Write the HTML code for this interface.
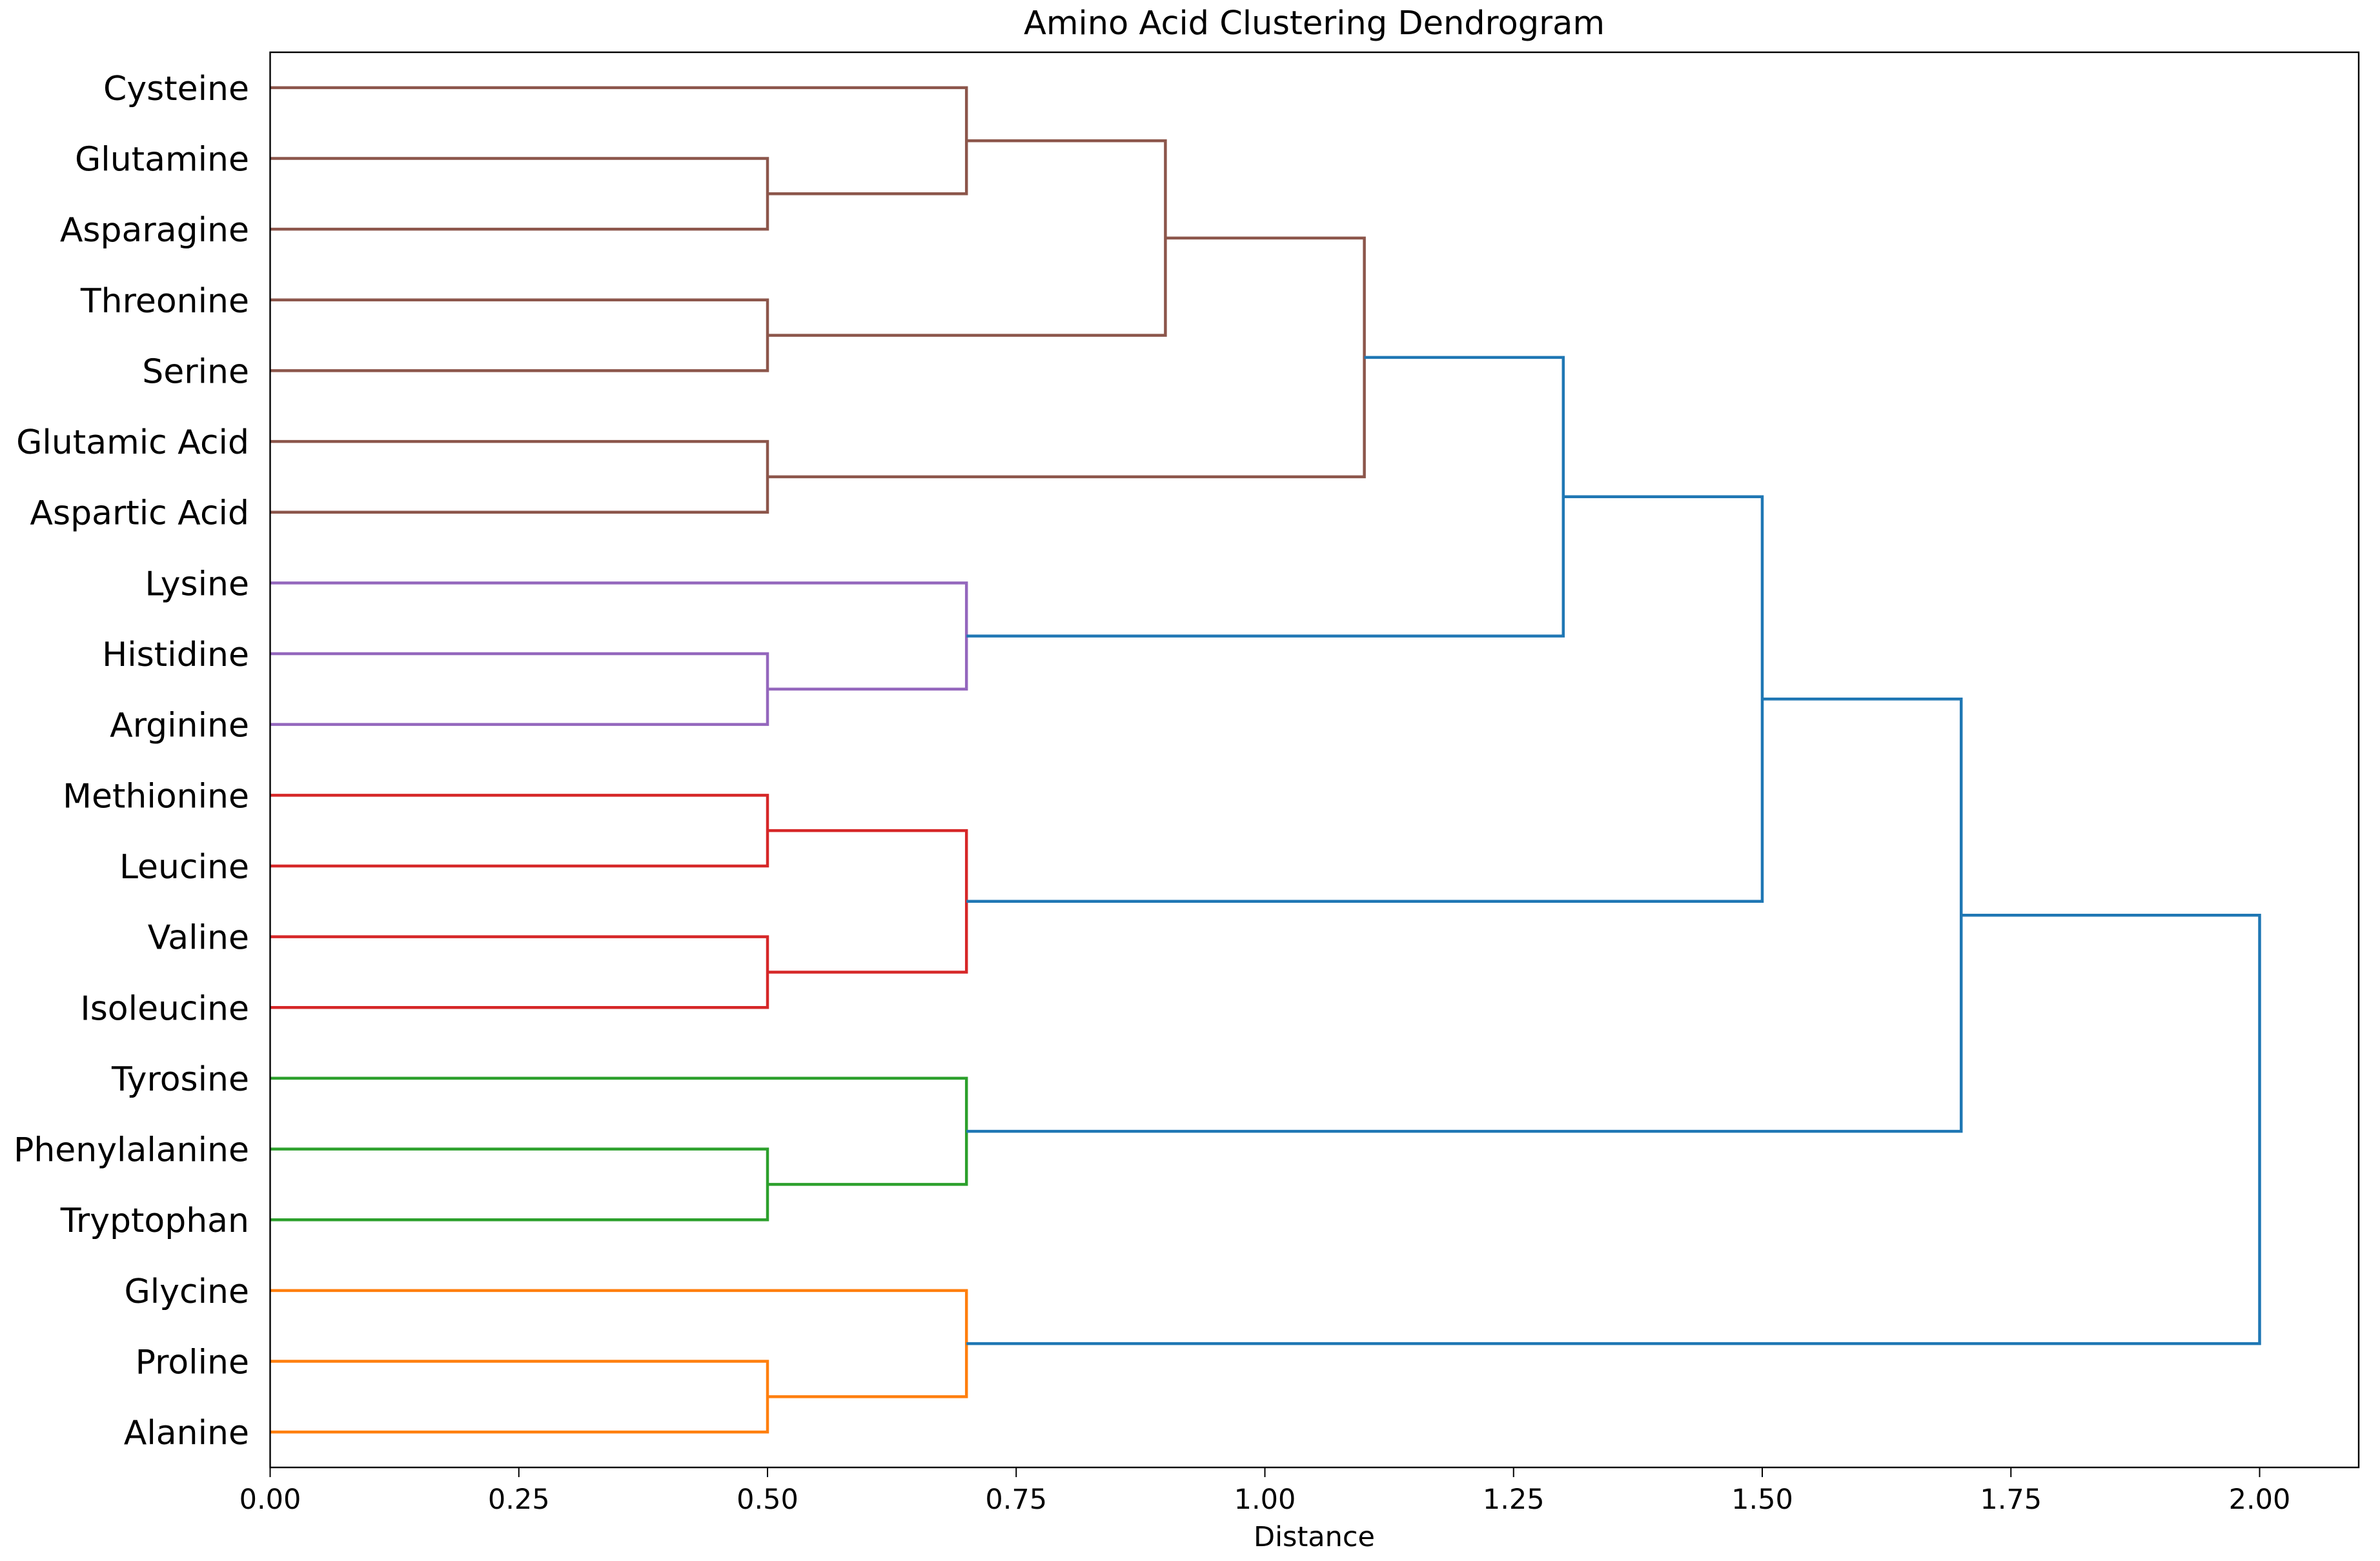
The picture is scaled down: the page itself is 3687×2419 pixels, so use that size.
<!DOCTYPE html>
<html>
<head>
<meta charset="utf-8">
<style>
html,body{margin:0;padding:0;background:#fff;}
svg{display:block;}
text{font-family:"DejaVu Sans","Liberation Sans",sans-serif;fill:#000;}
</style>
</head>
<body>
<svg id="chart" width="3687" height="2419" viewBox="0 0 3687 2419" xmlns="http://www.w3.org/2000/svg">
<rect x="0" y="0" width="3687" height="2419" fill="#fff"/>
<text x="2036" y="53" font-size="51" text-anchor="middle">Amino Acid Clustering Dendrogram</text>
<g id="links"></g>
<g id="yticks"></g>
<g id="xticks"></g>
<rect x="418.5" y="81" width="3235.5" height="2193" fill="none" stroke="#000" stroke-width="2.4"/>
<text x="2036" y="2396" font-size="43" text-anchor="middle">Distance</text>
</svg>
<script>
const leafLabels = ["Cysteine","Glutamine","Asparagine","Threonine","Serine","Glutamic Acid","Aspartic Acid","Lysine","Histidine","Arginine","Methionine","Leucine","Valine","Isoleucine","Tyrosine","Phenylalanine","Tryptophan","Glycine","Proline","Alanine"];
const mergeDist  = [0.5, 0.5, 0.5, 0.7, 0.9, 1.1, 0.5, 0.7, 0.5, 0.5, 0.7, 0.5, 0.7, 0.5, 0.7, 1.3, 1.5, 1.7, 2.0];
const mergeColor = ["#8c564b","#8c564b","#8c564b","#8c564b","#8c564b","#8c564b","#9467bd","#9467bd","#d62728","#d62728","#d62728","#2ca02c","#2ca02c","#ff7f0e","#ff7f0e","#1f77b4","#1f77b4","#1f77b4","#1f77b4"];
const xTickValues = [0, 0.25, 0.5, 0.75, 1.0, 1.25, 1.5, 1.75, 2.0];
const xTickLabels = ["0.00","0.25","0.50","0.75","1.00","1.25","1.50","1.75","2.00"];
// merge pairs (nodes < 20 are leaves, node 20+k is merge k)
const pairs = [[1,2],[3,4],[5,6],[0,20],[23,21],[24,22],[8,9],[7,26],[10,11],[12,13],[28,29],[15,16],[14,31],[18,19],[17,33],[25,27],[35,30],[36,32],[37,34]];

const X0 = 418.5, XS = 1541;
const Y0 = 81, YS = 2193 / 200;
const xScale = v => X0 + v * XS;
const yScale = v => Y0 + v * YS;
const ns = "http://www.w3.org/2000/svg";

const nodeY = {}, nodeX = {};
leafLabels.forEach((l, i) => { nodeY[i] = 5 + 10 * i; nodeX[i] = 0; });
const links = document.getElementById('links');
pairs.forEach((p, k) => {
  const a = p[0], b = p[1], d = mergeDist[k];
  const ya = yScale(nodeY[a]), yb = yScale(nodeY[b]);
  const xa = xScale(nodeX[a]), xb = xScale(nodeX[b]), xd = xScale(d);
  const path = document.createElementNS(ns, 'path');
  path.setAttribute('d', `M${xa},${ya} H${xd} V${yb} H${xb}`);
  path.setAttribute('fill', 'none');
  path.setAttribute('stroke', mergeColor[k]);
  path.setAttribute('stroke-width', '4.5');
  
  
  links.appendChild(path);
  nodeY[20 + k] = (nodeY[a] + nodeY[b]) / 2;
  nodeX[20 + k] = d;
});

const yt = document.getElementById('yticks');
leafLabels.forEach((l, i) => {
  const t = document.createElementNS(ns, 'text');
  t.setAttribute('x', 386);
  t.setAttribute('y', yScale(5 + 10 * i) + 19);
  t.setAttribute('font-size', '52');
  t.setAttribute('text-anchor', 'end');
  t.textContent = l;
  
  
  yt.appendChild(t);
});

const xt = document.getElementById('xticks');
xTickValues.forEach((v, i) => {
  const x = xScale(v);
  const ln = document.createElementNS(ns, 'line');
  ln.setAttribute('x1', x); ln.setAttribute('x2', x);
  ln.setAttribute('y1', 2274); ln.setAttribute('y2', 2289);
  ln.setAttribute('stroke', '#000'); ln.setAttribute('stroke-width', '2');
  
  
  xt.appendChild(ln);
  const t = document.createElementNS(ns, 'text');
  t.setAttribute('x', x);
  t.setAttribute('y', 2338);
  t.setAttribute('font-size', '43');
  t.setAttribute('text-anchor', 'middle');
  t.textContent = xTickLabels[i];
  
  
  xt.appendChild(t);
});
</script>
</body>
</html>
